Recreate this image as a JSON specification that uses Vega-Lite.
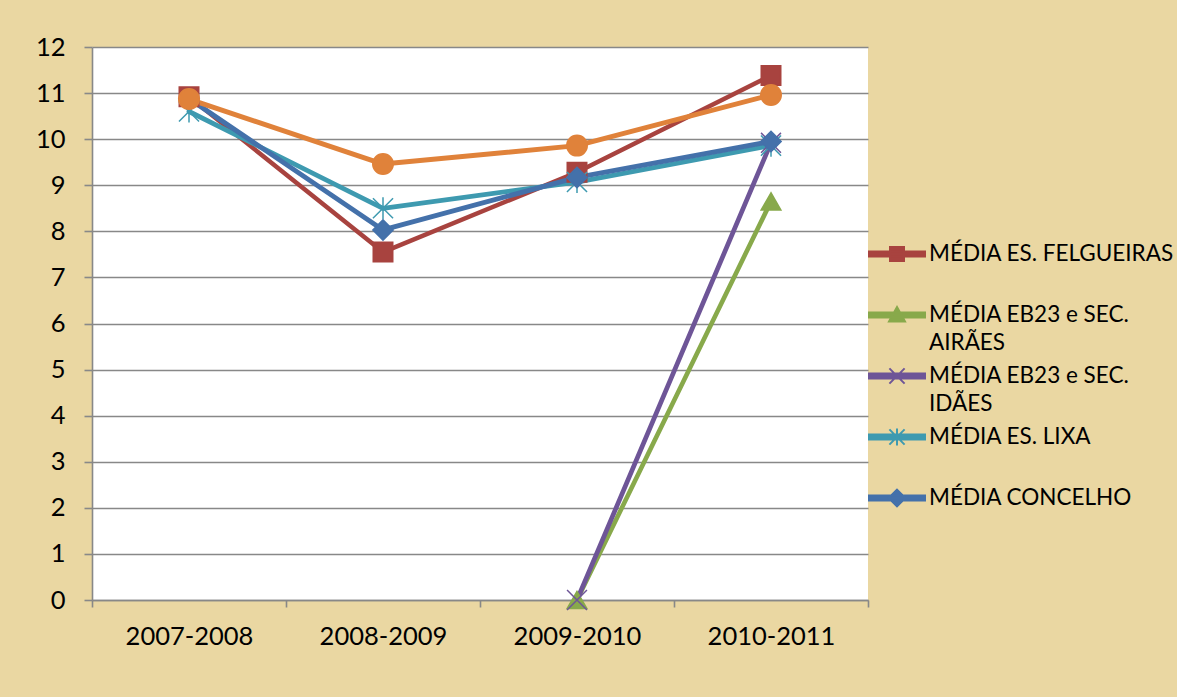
{
  "$schema": "https://vega.github.io/schema/vega-lite/v6.json",
  "autosize": "none",
  "width": 776,
  "height": 553,
  "padding": {"left": 92, "top": 47, "right": 309, "bottom": 97},
  "background": "#EAD7A2",
  "view": {"fill": "#FFFFFF", "stroke": null},
  "config": {
    "view": {"fill": "#FFFFFF", "stroke": null},
    "font": "Lato",
    "style": {"guide-label": {"lineHeight": 28}},
    "axis": {"labelFont": "Lato", "labelColor": "#000000", "domainColor": "#888888", "tickColor": "#888888", "gridColor": "#888888", "domainWidth": 1.6, "tickWidth": 1.6, "gridWidth": 1.6}
  },
  "datasets": {
    "d": [
      {"series": "MÉDIA ES. FELGUEIRAS", "year": "2007-2008", "value": 10.92},
      {"series": "MÉDIA ES. FELGUEIRAS", "year": "2008-2009", "value": 7.55},
      {"series": "MÉDIA ES. FELGUEIRAS", "year": "2009-2010", "value": 9.28},
      {"series": "MÉDIA ES. FELGUEIRAS", "year": "2010-2011", "value": 11.38},
      {"series": "MÉDIA EB23 e SEC. AIRÃES", "year": "2009-2010", "value": 0},
      {"series": "MÉDIA EB23 e SEC. AIRÃES", "year": "2010-2011", "value": 8.65},
      {"series": "MÉDIA EB23 e SEC. IDÃES", "year": "2009-2010", "value": 0},
      {"series": "MÉDIA EB23 e SEC. IDÃES", "year": "2010-2011", "value": 9.92},
      {"series": "MÉDIA ES. LIXA", "year": "2007-2008", "value": 10.6},
      {"series": "MÉDIA ES. LIXA", "year": "2008-2009", "value": 8.5},
      {"series": "MÉDIA ES. LIXA", "year": "2009-2010", "value": 9.07},
      {"series": "MÉDIA ES. LIXA", "year": "2010-2011", "value": 9.86},
      {"series": "MÉDIA CONCELHO", "year": "2007-2008", "value": 10.88},
      {"series": "MÉDIA CONCELHO", "year": "2008-2009", "value": 8.03},
      {"series": "MÉDIA CONCELHO", "year": "2009-2010", "value": 9.17},
      {"series": "MÉDIA CONCELHO", "year": "2010-2011", "value": 9.95},
      {"series": "MÉDIA NACIONAL", "year": "2007-2008", "value": 10.87},
      {"series": "MÉDIA NACIONAL", "year": "2008-2009", "value": 9.46},
      {"series": "MÉDIA NACIONAL", "year": "2009-2010", "value": 9.86},
      {"series": "MÉDIA NACIONAL", "year": "2010-2011", "value": 10.96}
    ]
  },
  "data": {"name": "d"},
  "encoding": {
    "x": {
      "field": "year", "type": "nominal",
      "scale": {"type": "band", "domain": ["2007-2008", "2008-2009", "2009-2010", "2010-2011"], "paddingInner": 0, "paddingOuter": 0},
      "axis": {"title": null, "labelAngle": 0, "tickBand": "extent", "tickSize": 7, "labelPadding": 17, "labelFontSize": 25.5, "grid": false}
    },
    "y": {
      "field": "value", "type": "quantitative",
      "scale": {"domain": [0, 12], "nice": false, "zero": true},
      "axis": {"title": null, "values": [0,1,2,3,4,5,6,7,8,9,10,11,12], "tickSize": 8, "labelPadding": 19, "labelFontSize": 25.5, "grid": true}
    }
  },
  "layer": [
    {
      "mark": {"type": "line", "strokeCap": "round", "strokeJoin": "round"},
      "encoding": {
        "color": {"field": "series", "type": "nominal", "legend": null,
          "scale": {"domain": ["MÉDIA ES. FELGUEIRAS", "MÉDIA EB23 e SEC. AIRÃES", "MÉDIA EB23 e SEC. IDÃES", "MÉDIA ES. LIXA", "MÉDIA CONCELHO", "MÉDIA NACIONAL"],
                    "range": ["#A8433F", "#88A94B", "#6E5597", "#3E9AB0", "#4471AA", "#E0823A"]}},
        "strokeWidth": {"field": "series", "type": "nominal", "legend": null,
          "scale": {"domain": ["MÉDIA ES. FELGUEIRAS", "MÉDIA EB23 e SEC. AIRÃES", "MÉDIA EB23 e SEC. IDÃES", "MÉDIA ES. LIXA", "MÉDIA CONCELHO", "MÉDIA NACIONAL"],
                    "range": [4.5, 5, 4, 5, 6, 5]}}
      }
    },
    {
      "mark": {"type": "point", "filled": true, "opacity": 1, "strokeWidth": 1.5},
      "encoding": {
        "color": {"field": "series", "type": "nominal", "legend": null,
          "scale": {"domain": ["MÉDIA ES. FELGUEIRAS", "MÉDIA EB23 e SEC. AIRÃES", "MÉDIA EB23 e SEC. IDÃES", "MÉDIA ES. LIXA", "MÉDIA CONCELHO", "MÉDIA NACIONAL"],
                    "range": ["#A8433F", "#88A94B", "#6E5597", "#3E9AB0", "#4471AA", "#E0823A"]}},
        "stroke": {"field": "series", "type": "nominal", "legend": null,
          "scale": {"domain": ["MÉDIA ES. FELGUEIRAS", "MÉDIA EB23 e SEC. AIRÃES", "MÉDIA EB23 e SEC. IDÃES", "MÉDIA ES. LIXA", "MÉDIA CONCELHO", "MÉDIA NACIONAL"],
                    "range": ["#A8433F", "#88A94B", "#6E5597", "#3E9AB0", "#4471AA", "#E0823A"]}},
        "shape": {"field": "series", "type": "nominal", "legend": null,
          "scale": {"domain": ["MÉDIA ES. FELGUEIRAS", "MÉDIA EB23 e SEC. AIRÃES", "MÉDIA EB23 e SEC. IDÃES", "MÉDIA ES. LIXA", "MÉDIA CONCELHO", "MÉDIA NACIONAL"],
                    "range": ["square", "triangle-up", "M-1,-1L1,1M-1,1L1,-1", "M-1,-1L1,1M-1,1L1,-1M0,-1.1L0,1.1", "diamond", "circle"]}},
        "size": {"field": "series", "type": "nominal", "legend": null,
          "scale": {"domain": ["MÉDIA ES. FELGUEIRAS", "MÉDIA EB23 e SEC. AIRÃES", "MÉDIA EB23 e SEC. IDÃES", "MÉDIA ES. LIXA", "MÉDIA CONCELHO", "MÉDIA NACIONAL"],
                    "range": [380, 420, 200, 200, 380, 360]}}
      }
    },
    {
      "transform": [{"filter": "false"}],
      "mark": {"type": "point", "filled": true, "opacity": 1},
      "encoding": {
        "x": null,
        "y": null,
        "color": {"field": "series", "type": "nominal",
          "scale": {"domain": ["MÉDIA ES. FELGUEIRAS", "MÉDIA EB23 e SEC. AIRÃES", "MÉDIA EB23 e SEC. IDÃES", "MÉDIA ES. LIXA", "MÉDIA CONCELHO", "MÉDIA NACIONAL"],
                    "range": ["#A8433F", "#88A94B", "#6E5597", "#3E9AB0", "#4471AA", "#E0823A"]},
          "legend": {"title": null, "orient": "none", "legendX": 784, "legendY": 186,
            "values": ["MÉDIA ES. FELGUEIRAS", "MÉDIA EB23 e SEC. AIRÃES", "MÉDIA EB23 e SEC. IDÃES", "MÉDIA ES. LIXA", "MÉDIA CONCELHO"],
            "symbolSize": 1600, "symbolStrokeWidth": 2, "labelFontSize": 22.5, "labelFont": "Lato", "labelColor": "#000000", "labelOffset": 11, "labelLimit": 400, "rowPadding": 0, "padding": 0,
            "labelExpr": "datum.label == 'MÉDIA EB23 e SEC. AIRÃES' ? ['MÉDIA EB23 e SEC.', 'AIRÃES'] : datum.label == 'MÉDIA EB23 e SEC. IDÃES' ? ['MÉDIA EB23 e SEC.', 'IDÃES'] : [datum.label, ' ']"}},
        "stroke": {"field": "series", "type": "nominal",
          "scale": {"domain": ["MÉDIA ES. FELGUEIRAS", "MÉDIA EB23 e SEC. AIRÃES", "MÉDIA EB23 e SEC. IDÃES", "MÉDIA ES. LIXA", "MÉDIA CONCELHO", "MÉDIA NACIONAL"],
                    "range": ["#A8433F", "#88A94B", "#6E5597", "#3E9AB0", "#4471AA", "#E0823A"]},
          "legend": {"title": null, "orient": "none", "legendX": 784, "legendY": 186,
            "values": ["MÉDIA ES. FELGUEIRAS", "MÉDIA EB23 e SEC. AIRÃES", "MÉDIA EB23 e SEC. IDÃES", "MÉDIA ES. LIXA", "MÉDIA CONCELHO"],
            "symbolSize": 1600, "symbolStrokeWidth": 2, "labelFontSize": 22.5, "labelFont": "Lato", "labelColor": "#000000", "labelOffset": 11, "labelLimit": 400, "rowPadding": 0, "padding": 0,
            "labelExpr": "datum.label == 'MÉDIA EB23 e SEC. AIRÃES' ? ['MÉDIA EB23 e SEC.', 'AIRÃES'] : datum.label == 'MÉDIA EB23 e SEC. IDÃES' ? ['MÉDIA EB23 e SEC.', 'IDÃES'] : [datum.label, ' ']"}},
        "shape": {"field": "series", "type": "nominal",
          "scale": {"domain": ["MÉDIA ES. FELGUEIRAS", "MÉDIA EB23 e SEC. AIRÃES", "MÉDIA EB23 e SEC. IDÃES", "MÉDIA ES. LIXA", "MÉDIA CONCELHO", "MÉDIA NACIONAL"],
                    "range": [
                      "M-1.4,-0.12H1.4V0.12H-1.4Z M-0.35,-0.35H0.35V0.35H-0.35Z",
                      "M-1.4,-0.12H1.4V0.12H-1.4Z M0,-0.4L0.4,0.32H-0.4Z",
                      "M-1.4,-0.12H1.4V0.12H-1.4Z M-0.38,-0.38L0.38,0.38M-0.38,0.38L0.38,-0.38",
                      "M-1.4,-0.12H1.4V0.12H-1.4Z M-0.38,-0.38L0.38,0.38M-0.38,0.38L0.38,-0.38M0,-0.42L0,0.42",
                      "M-1.4,-0.12H1.4V0.12H-1.4Z M0,-0.42L0.42,0L0,0.42L-0.42,0Z",
                      "circle"]},
          "legend": {"title": null, "orient": "none", "legendX": 784, "legendY": 186,
            "values": ["MÉDIA ES. FELGUEIRAS", "MÉDIA EB23 e SEC. AIRÃES", "MÉDIA EB23 e SEC. IDÃES", "MÉDIA ES. LIXA", "MÉDIA CONCELHO"],
            "symbolSize": 1600, "symbolStrokeWidth": 2, "labelFontSize": 22.5, "labelFont": "Lato", "labelColor": "#000000", "labelOffset": 11, "labelLimit": 400, "rowPadding": 0, "padding": 0,
            "labelExpr": "datum.label == 'MÉDIA EB23 e SEC. AIRÃES' ? ['MÉDIA EB23 e SEC.', 'AIRÃES'] : datum.label == 'MÉDIA EB23 e SEC. IDÃES' ? ['MÉDIA EB23 e SEC.', 'IDÃES'] : [datum.label, ' ']"}}
      }
    }
  ],
  "resolve": {"scale": {"color": "independent", "stroke": "independent", "shape": "independent"}}
}
